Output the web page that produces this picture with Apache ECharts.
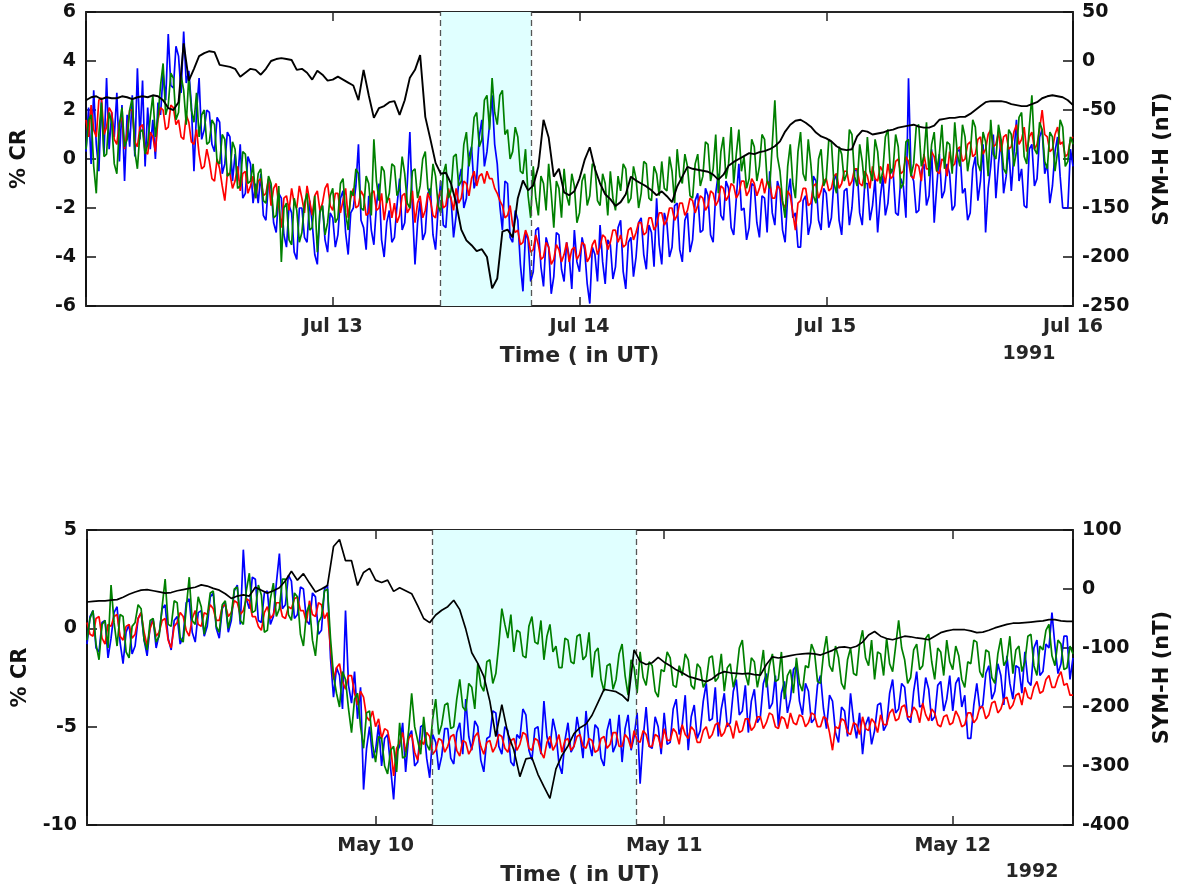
<!DOCTYPE html>
<html><head><meta charset="utf-8">
<script src="https://cdn.jsdelivr.net/npm/echarts@6/dist/echarts.min.js"></script>
<style>html,body{margin:0;padding:0;background:#fff;overflow:hidden}#c{width:1181px;height:890px}</style>
</head><body><div id="c"></div>
<script>
// ---- 1991 event (Jul 12 00 UT .. Jul 16 00 UT) ----
// cosmic-ray series sampled every 15 min, SYM-H every 30 min
const ticks91 = ['', 'Jul 13', 'Jul 14', 'Jul 15', 'Jul 16'];
const shade91 = [34.5, 43.33];
const cr91Blue = [
0.3, 2.1, -0.2, 2.8, 0.6, -0.5, 2.4, 0.2, 3.3, 0.4, 1.9, 0.9, 2.7, -0.1, 2.2, -0.9, 1.8, 0.5, 2.6, 0.1, 3.7, 0.8, 3.2, -0.3,
2.1, 0.4, 1.6, 0.0, 2.3, 1.8, 3.5, 2.4, 5.1, 3.0, 2.9, 4.6, 4.2, 2.7, 5.2, 3.1, 3.6, 2.2, -0.5, 1.9, 3.3, 0.8, 1.2, 2.0,
1.9, 0.6, 0.3, 1.7, 1.5, -0.6, -0.2, 1.1, 0.9, -0.9, 0.2, -0.9, 0.6, -1.6, -1.4, 0.1, -0.2, -1.8, -1.0, -1.8, -0.6, -2.3, -2.5, -0.9,
-1.2, -2.6, -3.0, -1.4, -1.6, -3.1, -3.6, -1.9, -2.2, -3.8, -4.1, -2.0, -2.0, -3.2, -3.4, -1.7, -2.6, -3.9, -4.3, -2.1, -1.9, -3.3, -3.8, -2.2,
-2.4, -3.6, -3.1, -1.6, -1.3, -3.0, -3.9, -2.2, -2.0, -1.1, 0.6, -2.5, -2.8, -3.7, -1.5, -2.9, -3.5, -1.9, -1.0, -3.3, -4.0, -2.6, -2.1, -3.4,
-3.2, -1.9, -0.8, -2.9, -2.6, -1.0, 1.1, -2.0, -4.3, -2.6, -1.7, -3.3, -3.0, -1.4, -1.2, -3.1, -3.7, -2.0, -0.9, -2.7, -2.8, -1.3, -1.6, -3.2,
-2.3, -0.9, -0.4, -2.0, -1.6, 0.1, 0.5, -1.2, -0.8, 0.9, 1.6, -0.3, 0.3, 1.4, 2.6, 0.6, -0.2, -1.9, -2.9, -0.9, -1.0, -3.2, -3.4, -2.1,
-2.5, -4.3, -5.4, -3.0, -3.3, -5.0, -4.6, -2.9, -2.8, -4.4, -5.2, -3.2, -3.6, -5.5, -4.8, -3.0, -3.1, -4.5, -5.0, -3.4, -4.0, -5.3, -2.9, -4.2,
-4.6, -3.2, -3.7, -5.1, -5.9, -3.6, -3.9, -5.0, -2.7, -4.2, -5.1, -3.3, -3.5, -4.9, -4.4, -2.8, -2.5, -4.6, -5.3, -3.4, -3.2, -4.8, -4.0, -2.6,
-2.4, -3.9, -4.5, -2.7, -3.0, -4.4, -1.6, -3.5, -4.3, -2.2, -2.6, -4.0, -3.6, -1.9, -1.8, -3.7, -4.2, -2.5, -2.2, -3.8, -3.3, -1.7, -1.4, -3.0,
-2.9, -1.2, -1.5, -3.1, -3.4, -1.4, -0.6, -2.3, -2.5, -0.9, -1.2, -2.8, -3.1, -1.6, -0.2, -2.1, -2.0, -3.3, -2.8, -1.0, -1.1, -2.6, -3.2, -1.5,
-1.6, -3.0, -0.5, -2.2, -2.7, -0.9, -1.3, -2.9, -3.4, -1.5, -0.8, -2.4, -2.2, -3.6, -3.6, -1.7, -1.5, -3.1, -2.6, -0.7, -0.9, -2.5, -2.9, -1.2,
-1.4, -2.8, -2.4, -0.9, -0.6, -2.5, -3.1, -1.3, -1.2, -2.7, -2.0, -0.5, -0.4, -2.2, -2.7, -1.0, -1.0, -2.5, -1.9, -0.8, -3.0, -1.6, -0.7, -2.3,
-1.8, -0.4, -0.5, -2.2, -2.3, -0.8, -1.1, -2.4, 3.3, -0.6, -0.9, -2.2, -2.1, -0.5, -0.2, -1.9, -1.5, 0.4, -2.6, -1.1, 0.2, -1.6, -1.3, -0.2,
-0.6, -2.1, -1.9, 0.3, 0.4, -1.4, -1.2, -2.5, -2.2, -0.4, 0.1, -1.7, -0.9, 0.6, -3.0, -1.2, -0.3, 1.0, -1.6, -0.2, 0.8, -1.4, -0.7, 0.5,
-1.3, 0.2, 1.6, -0.9, -0.4, -1.9, -2.0, 0.4, 0.6, -1.1, -0.8, 0.9, 1.2, -0.6, -0.2, -1.8, -1.1, 0.3, 0.9, -0.7, -2.0, -2.0, -2.0, 0.4,
-0.3];
const cr91Red = [
1.6, 0.9, 2.2, 1.2, 0.9, 2.4, 2.5, 1.0, 1.3, 2.1, 1.9, 0.8, 0.6, 1.5, 1.7, 0.4, 1.1, 2.0, 2.0, 0.7, 0.5, 1.3, 1.4, 0.3,
0.2, 1.1, 0.9, 0.3, 1.6, 2.1, 2.0, 1.2, 1.3, 2.2, 2.1, 1.4, 1.6, 0.9, 0.8, 1.8, 1.5, 0.7, 0.6, 1.2, 0.2, -0.4, -0.3, 0.4,
-0.1, -0.8, -0.9, 0.0, -0.4, -1.1, -1.7, -0.6, -0.6, -1.2, -0.9, -0.3, -1.3, -0.6, -0.5, -1.4, -1.1, -0.7, -1.6, -0.9, -0.8, -1.5, -1.4, -0.8,
-1.9, -1.2, -1.0, -1.9, -2.8, -1.6, -1.5, -2.1, -1.2, -1.8, -2.0, -1.1, -1.6, -2.2, -1.1, -1.7, -2.3, -1.5, -1.3, -2.1, -1.8, -1.2, -1.0, -1.9,
-2.1, -1.4, -1.4, -2.2, -1.7, -1.2, -2.4, -1.6, -1.2, -2.0, -1.9, -1.3, -1.5, -2.3, -2.2, -1.4, -1.3, -2.1, -2.0, -1.4, -2.5, -1.7, -1.6, -2.4,
-1.8, -2.6, -2.3, -1.5, -1.4, -2.2, -2.0, -1.3, -2.6, -1.8, -1.5, -2.4, -2.1, -1.4, -1.7, -2.3, -2.4, -1.6, -1.3, -2.0, -1.9, -1.2, -1.6, -2.1,
-1.2, -1.8, -1.6, -0.9, -1.0, -1.5, -0.8, -0.5, -1.1, -0.7, -0.6, -1.0, -0.5, -0.8, -0.8, -1.2, -1.4, -1.7, -1.9, -2.4, -2.3, -1.9, -2.7, -3.0,
-2.9, -3.5, -3.4, -2.9, -3.2, -3.8, -3.7, -3.1, -3.5, -4.1, -4.0, -3.4, -3.6, -4.3, -4.1, -3.5, -3.7, -4.2, -3.9, -3.4, -4.2, -3.7, -3.6, -4.1,
-3.9, -3.4, -3.5, -4.2, -4.0, -3.5, -3.3, -3.9, -3.6, -3.1, -3.2, -3.7, -3.4, -2.9, -2.9, -3.4, -3.1, -3.6, -3.5, -2.9, -2.8, -3.3, -3.0, -2.6,
-2.6, -3.1, -3.0, -2.4, -2.4, -2.9, -2.7, -2.2, -2.2, -2.7, -2.5, -2.0, -2.0, -2.5, -2.3, -1.8, -1.8, -2.3, -2.1, -1.6, -1.7, -2.2, -1.9, -1.5,
-1.6, -2.1, -1.9, -1.3, -1.4, -1.9, -1.7, -1.1, -1.2, -1.7, -1.5, -1.0, -1.1, -1.6, -1.4, -0.9, -0.9, -1.5, -1.3, -0.8, -1.0, -1.5, -1.2, -0.8,
-1.4, -0.9, -1.0, -1.6, -1.6, -1.1, -1.2, -1.8, -2.0, -1.3, -1.5, -2.2, -2.9, -1.8, -1.7, -1.2, -1.2, -1.9, -1.8, -1.1, -1.0, -1.6, -1.3, -0.9,
-0.8, -1.3, -1.2, -0.7, -0.6, -1.2, -1.0, -0.5, -0.5, -1.1, -0.9, -0.4, -0.4, -1.0, -1.1, -0.5, -0.7, -1.2, -0.3, -0.8, -0.9, -0.3, -0.5, -1.0,
-0.2, -0.8, -0.7, -0.1, 0.0, -0.6, -0.5, 0.1, -0.1, -0.7, -0.8, -0.2, -0.3, -0.9, 0.2, -0.4, -0.4, 0.3, 0.1, -0.5, -0.6, 0.0, -0.1, -0.7,
0.3, -0.3, -0.2, 0.4, 0.5, -0.1, 0.0, 0.6, 0.7, 0.1, 0.2, 0.8, 0.9, 0.2, 0.4, 1.0, 1.2, 0.5, 0.6, 1.1, 0.3, 0.9, 1.0, 0.4,
0.5, 1.1, 1.4, 0.6, 0.8, 1.3, 0.3, 0.9, 1.1, 0.4, 0.6, 1.2, 2.0, 1.0, 0.9, 0.3, 0.4, 1.0, 1.3, 0.6, 0.7, 0.1, 0.2, 0.8,
0.9];
const cr91Green = [
0.4, 1.6, 1.8, -0.3, -1.4, 1.0, 2.3, 0.1, 0.2, 1.9, 1.5, -0.2, -0.6, 1.4, 2.1, 0.5, 0.8, 2.0, 2.5, 0.3, -0.4, 1.1, 1.2, 0.2,
0.6, 1.7, 2.6, 0.9, 1.7, 3.0, 3.9, 1.8, 2.2, 3.5, 3.3, 1.6, 1.9, 3.4, 2.8, 1.4, 3.4, 2.0, 1.5, 2.7, 0.9, 1.8, 2.0, 0.6,
0.7, 1.6, 1.4, -0.1, -0.2, 1.0, 0.8, -0.7, -0.6, 0.7, 0.4, -1.2, -1.1, 0.3, 0.2, -1.0, -0.9, -0.2, -1.6, -0.6, -0.4, -1.7, -1.8, -0.7,
-1.0, -2.4, -2.3, -1.1, -4.2, -2.0, -1.8, -3.3, -3.5, -1.6, -2.1, -3.4, -3.0, -1.8, -1.4, -2.9, -2.8, -1.5, -3.8, -2.2, -1.9, -3.1, -2.6, -1.5,
-1.2, -2.6, -2.4, -1.0, -0.8, -2.2, -2.9, -1.3, -1.5, -0.4, -0.6, -2.0, -2.1, -0.7, -1.0, -2.3, 0.8, -0.9, -1.7, -0.3, -0.5, -1.8, -1.4, -0.2,
-0.3, -1.5, -1.2, 0.1, -0.6, -1.8, -2.0, -0.5, -0.4, -1.6, -1.1, 0.0, 0.3, -1.2, -1.5, -0.2, -0.7, -1.9, -2.2, -0.6, -0.2, -1.6, -1.3, 0.1,
0.2, -1.1, -0.9, 0.6, 1.1, -0.3, 0.4, 1.7, 1.9, 0.5, 0.8, 2.4, 2.6, 1.2, 3.3, 1.9, 1.4, 2.6, 2.8, 1.0, 1.2, 0.0, 0.3, 1.3,
0.9, -0.5, -0.6, 0.4, -1.5, -2.4, -0.3, -1.6, -2.3, -0.7, -1.0, -2.1, -0.2, -1.4, -2.8, -0.9, -1.2, -2.4, -0.4, -1.5, -1.9, -0.6, -1.1, -2.6,
-2.2, -0.9, -0.6, -1.9, -1.5, -0.2, -0.3, -1.7, -1.9, -0.6, -1.0, -2.3, -0.5, -1.6, -2.1, -0.7, -1.3, -0.2, -0.4, -1.8, -1.6, -0.3, -0.8, -2.0,
-1.4, -0.1, -0.2, -1.6, -1.7, -0.3, -0.6, -1.5, -0.1, -1.2, -1.3, 0.1, -0.5, -1.8, 0.4, -0.7, -1.0, 0.2, -0.3, -1.5, -1.6, -0.2, 0.2, -1.1,
-0.7, 0.7, 0.6, -0.9, -0.4, 1.0, -1.4, 0.3, 0.9, -0.8, -0.2, 1.3, -1.0, 0.2, 1.2, -0.5, 0.1, -1.2, -0.8, 0.8, 0.5, -0.9, -0.3, 1.0,
0.8, -0.9, -1.2, 0.6, 2.4, 0.1, -0.5, -1.7, -2.4, -0.3, 0.6, -1.0, -1.6, 0.3, 1.1, -0.6, -0.9, 0.8, -0.2, -1.5, -1.8, 0.0, 0.4, -1.1,
-0.8, 0.8, 0.7, -1.0, -1.4, 0.5, 0.2, -0.9, -0.6, 1.2, 1.0, -0.7, -1.1, 0.6, -0.1, -1.2, 0.9, -0.5, -0.9, 0.8, 0.3, -1.0, -0.5, 0.9,
1.2, -0.6, -0.4, 1.0, 0.5, -1.2, -1.0, 0.7, 0.8, -0.7, -0.2, 1.3, 1.4, -0.3, 0.1, 1.5, -0.7, 0.6, 1.1, -0.5, 0.2, 1.4, -0.4, 0.7,
0.6, -0.6, 1.5, 0.2, -0.3, 1.4, 0.9, -0.5, 0.2, 1.6, 1.3, -0.2, -0.5, 1.1, 0.7, -0.7, 1.6, 0.2, 0.0, 1.4, 0.8, -0.4, -0.6, 1.2,
1.0, -0.3, 0.3, 1.7, 1.9, 0.1, -0.2, 1.3, 2.6, 0.4, 0.2, 1.5, 1.2, -0.1, -0.4, 1.1, 0.9, -0.5, 0.3, 1.6, 1.3, -0.3, -0.1, 0.9,
0.6];
const symh91 = [
-40, -37, -36, -39, -37, -38, -38, -36, -37, -39, -37, -36,
-37, -35, -36, -40, -48, -50, -42, 18, -20, -8, 5, 8,
10, 9, -4, -5, -6, -8, -16, -12, -8, -9, -14, -8,
0, 2, 3, 2, 1, -9, -8, -12, -19, -10, -14, -20,
-19, -16, -19, -22, -25, -40, -9, -35, -58, -48, -46, -42,
-41, -55, -40, -17, -9, 6, -57, -80, -104, -115, -114, -125,
-145, -172, -183, -188, -194, -192, -200, -232, -222, -174, -172, -180,
-140, -122, -132, -127, -108, -60, -78, -118, -110, -134, -137, -133,
-120, -101, -88, -110, -125, -136, -141, -148, -144, -136, -118, -122,
-125, -128, -132, -137, -133, -138, -144, -128, -118, -108, -110, -111,
-112, -113, -116, -121, -116, -107, -103, -100, -97, -94, -95, -93,
-92, -90, -87, -82, -72, -65, -61, -60, -63, -67, -73, -77,
-79, -82, -87, -90, -91, -90, -77, -71, -72, -75, -74, -73,
-71, -70, -68, -67, -66, -65, -67, -68, -68, -66, -60, -59,
-58, -58, -57, -57, -54, -50, -46, -42, -41, -41, -41, -42,
-44, -45, -46, -46, -44, -42, -38, -36, -35, -36, -37, -40, -45];

// ---- 1992 event (May 9 00 UT .. May 12 10 UT) ----
const ticks92 = ['', 'May 10', 'May 11', 'May 12'];
const shade92 = [28.75, 45.7];
const cr92Blue = [
-0.8, 0.6, 0.9, -1.0, -1.2, 0.3, 0.4, -1.5, -0.5, 0.8, 1.1, -0.7, -1.8, -0.2, 0.2, -1.3, -0.9, 0.5, 0.8, -0.6, -1.4, 0.1, 0.5, -1.0,
-0.3, 1.0, 1.2, -0.5, -1.1, 0.4, 0.6, -0.8, -0.4, 1.3, 1.5, -0.2, -0.7, 0.8, 0.9, -0.4, 0.1, 1.6, 1.8, 0.0, -0.5, 1.0, 1.3, -0.2,
0.4, 1.9, 2.2, 0.2, 4.0, 1.5, 1.0, 2.6, 2.5, 0.4, 0.3, 1.8, 1.9, 0.2, 0.6, 2.3, 3.8, 1.0, 1.2, 2.7, 2.4, 0.5, 0.7, 2.1,
2.0, 0.4, 0.2, 1.8, 1.6, -0.3, -0.1, 2.0, 2.2, -1.5, -3.5, -2.0, -2.4, -4.1, 0.9, -2.9, -3.8, -2.2, -4.6, -3.0, -8.2, -6.1, -5.0, -6.6,
-6.2, -4.9, -7.0, -5.6, -5.4, -7.1, -8.7, -6.3, -6.0, -4.8, -7.3, -5.5, -5.2, -7.0, -6.8, -5.0, -4.9, -6.6, -7.6, -5.4, -5.8, -7.2, -6.5, -5.1,
-5.1, -6.6, -6.9, -5.3, -4.8, -6.4, -3.6, -5.5, -6.2, -4.7, -5.0, -6.7, -7.3, -5.6, -5.5, -4.2, -4.3, -6.0, -6.4, -5.0, -5.2, -6.8, -7.0, -5.4,
-5.6, -4.1, -4.4, -6.2, -6.7, -5.1, -5.0, -6.4, -3.7, -5.5, -6.1, -4.6, -5.3, -6.9, -7.4, -5.7, -4.8, -6.3, -6.0, -4.5, -5.4, -6.6, -4.2, -5.8,
-6.5, -4.9, -5.1, -6.6, -7.0, -5.2, -4.6, -6.3, -5.9, -4.4, -6.8, -5.1, -4.4, -6.2, -5.5, -4.3, -7.9, -5.6, -4.0, -6.0, -6.1, -4.5, -5.0, -6.4,
-4.3, -5.9, -5.8, -4.1, -3.6, -5.4, -4.9, -3.4, -6.2, -4.5, -3.9, -5.6, -5.2, -3.7, -2.8, -4.7, -4.6, -3.0, -5.5, -4.1, -3.3, -5.0, -4.8, -3.2,
-2.6, -4.4, -4.2, -2.9, -5.3, -3.7, -3.1, -4.8, -4.5, -2.8, -2.3, -4.1, -3.8, -2.4, -5.0, -3.3, -2.7, -4.3, -3.6, -2.1, -1.9, -3.7, -4.4, -2.8,
-3.2, -4.8, -4.6, -2.9, -2.4, -4.1, -5.1, -3.4, -3.7, -5.3, -5.8, -4.0, -4.2, -5.5, -3.3, -4.7, -5.6, -4.3, -6.4, -4.9, -4.5, -5.9, -5.2, -3.9,
-3.8, -5.2, -4.9, -3.3, -2.6, -4.3, -4.1, -2.8, -3.0, -4.6, -4.8, -3.2, -2.2, -4.0, -3.9, -2.5, -3.1, -4.7, -4.5, -2.9, -2.7, -4.2, -3.6, -2.4,
-4.2, -2.8, -2.5, -4.0, -3.4, -5.6, -5.6, -3.9, -2.8, -4.1, -3.9, -2.3, -1.9, -3.6, -3.2, -1.8, -2.4, -3.9, -1.4, -2.8, -3.6, -1.9, -2.0, -3.3,
-1.2, -2.7, -2.9, -1.0, -0.6, -2.4, -2.2, -0.8, -1.0, 0.8, -0.9, -2.3, -1.8, -0.4, -0.4, -2.6,
-1.5];
const cr92Red = [
0.3, -0.3, -0.4, 0.5, 0.6, -0.5, -0.8, 0.2, 0.1, 0.6, 0.7, -0.4, -0.6, 0.1, 0.2, -0.5, -0.3, 0.5, 0.8, -0.2, -0.9, 0.0, 0.4, -0.4,
-0.2, 0.4, 0.5, -0.6, -1.0, 0.1, 0.3, 0.8, 0.6, -0.1, -0.4, 0.5, 0.9, 0.2, 0.1, 0.8, 0.7, 1.2, 1.0, 0.4, 0.4, 1.1, 1.2, 0.6,
0.8, 1.4, 1.3, 0.7, 0.9, 1.5, 1.4, 0.6, 0.6, 0.1, -0.1, 0.8, 1.1, 0.5, 0.7, 1.3, 1.3, 0.6, 0.5, 1.1, 1.0, 1.5, 1.6, 0.9,
0.9, 0.3, 1.4, 0.7, 0.6, 1.3, 1.2, 0.5, 0.8, -1.0, -2.6, -2.0, -1.8, -2.7, -3.1, -2.4, -2.4, -3.3, -3.9, -3.2, -3.5, -4.5, -4.7, -4.2,
-5.0, -4.6, -5.6, -5.1, -5.2, -6.0, -7.5, -6.1, -5.8, -5.3, -6.3, -5.6, -5.4, -6.3, -6.7, -5.7, -5.9, -5.3, -5.5, -6.4, -6.2, -5.6, -5.7, -6.3,
-6.0, -5.5, -5.4, -6.2, -6.5, -5.7, -5.8, -6.4, -6.1, -5.5, -5.3, -6.0, -6.4, -5.8, -5.7, -6.3, -6.0, -5.4, -5.5, -6.1, -6.3, -5.7, -5.6, -6.2,
-5.9, -5.3, -5.4, -6.1, -6.2, -5.6, -5.7, -6.3, -6.6, -5.8, -5.5, -6.2, -5.9, -5.4, -6.3, -5.7, -5.6, -6.2, -6.0, -5.5, -5.4, -6.0, -6.1, -5.6,
-5.7, -6.3, -6.2, -5.6, -5.5, -6.1, -5.9, -5.3, -5.3, -6.0, -6.0, -5.4, -5.6, -6.1, -5.2, -5.7, -5.8, -5.2, -5.4, -6.0, -6.0, -5.4, -5.5, -6.1,
-5.1, -5.7, -5.7, -5.1, -5.3, -5.9, -4.9, -5.4, -5.6, -5.0, -5.2, -5.8, -5.8, -5.2, -5.0, -5.6, -5.4, -4.9, -4.8, -5.5, -5.3, -4.8, -5.0, -5.6,
-4.7, -5.3, -5.2, -4.6, -4.6, -5.2, -5.0, -4.5, -4.5, -5.1, -4.8, -4.3, -4.4, -5.0, -5.1, -4.5, -4.6, -5.1, -4.3, -4.8, -4.9, -4.4, -4.5, -5.0,
-4.8, -4.3, -4.4, -5.0, -5.0, -4.5, -4.6, -5.3, -6.2, -5.0, -5.1, -4.6, -4.7, -5.3, -5.4, -4.8, -4.9, -5.4, -4.5, -5.1, -5.2, -4.6, -4.8, -5.3,
-4.4, -4.9, -4.9, -4.3, -4.1, -4.7, -4.6, -4.0, -3.9, -4.5, -4.5, -4.0, -4.2, -4.8, -3.8, -4.4, -4.7, -4.1, -4.3, -4.9, -5.0, -4.5, -4.4, -4.9,
-4.8, -4.2, -4.5, -5.0, -4.9, -4.3, -4.3, -4.8, -4.6, -4.0, -4.0, -4.6, -4.4, -3.8, -3.7, -4.3, -4.1, -3.6, -3.5, -4.1, -3.9, -3.4, -3.3, -3.9,
-3.0, -3.5, -3.6, -3.0, -2.7, -3.3, -3.2, -2.6, -2.4, -3.0, -3.0, -2.5, -2.2, -2.9, -2.8, -3.4,
-3.4];
const cr92Green = [
-0.6, 0.5, 0.9, -0.8, -1.6, 0.2, 0.4, -1.0, 2.2, 0.3, -0.9, 0.7, 0.6, -1.2, -1.5, 0.1, 0.3, 1.2, 1.0, -0.6, -1.1, 0.4, 0.5, -0.7,
-0.4, 1.1, 2.5, 0.2, 0.1, 1.4, 1.3, -0.5, -0.7, 1.0, 2.6, 0.4, 0.2, 1.6, 1.1, -0.3, 0.6, 1.8, 1.9, 0.1, -0.2, 1.2, 1.4, 0.0,
0.7, 2.0, 2.1, 0.4, 0.2, 1.9, 2.8, 0.8, 0.9, 2.2, 1.7, -0.2, -0.1, 1.5, 2.3, 0.6, 1.0, 2.5, 2.5, 0.7, 0.4, 1.8, 1.6, -0.3,
-0.9, 0.8, 1.2, -0.6, -1.4, 0.3, 0.6, 1.9, 2.0, -0.5, -2.4, -3.3, -4.0, -2.2, -2.6, -4.1, -5.3, -3.6, -3.3, -5.0, -6.1, -4.3, -4.2, -5.9,
-6.8, -5.5, -5.6, -7.0, -7.4, -6.2, -6.0, -7.3, -4.8, -6.6, -6.5, -5.2, -3.3, -5.0, -5.7, -6.4, -4.5, -5.9, -6.2, -4.6, -3.6, -5.4, -4.9, -3.9,
-3.8, -5.1, -5.0, -3.6, -2.6, -4.0, -4.2, -2.8, -3.0, -4.1, -1.8, -2.9, -3.2, -1.7, -1.6, -2.8, -2.3, -0.8, 1.0, 0.2, -0.5, 0.7, -1.2, -0.1,
-0.2, -1.4, -1.5, 0.1, 0.6, -0.7, -0.8, 0.4, -1.6, -0.4, 0.2, -1.2, -0.9, -2.0, -2.0, -0.5, -0.6, -1.7, -1.8, -0.4, -0.3, -1.6, -1.4, -0.2,
-2.5, -1.2, -1.0, -2.6, -3.2, -1.9, -1.8, -3.1, -2.6, -1.3, -0.8, -2.4, -3.4, -1.6, -2.0, -3.3, -1.2, -2.5, -2.9, -1.7, -1.9, -3.2, -3.5, -2.1,
-2.2, -1.2, -1.5, -2.9, -3.0, -1.9, -2.4, -1.3, -1.6, -2.9, -3.1, -1.8, -2.0, -3.0, -2.7, -1.5, -1.4, -2.7, -2.5, -1.3, -3.2, -2.0, -1.8, -3.0,
-2.4, -1.0, -0.6, -2.3, -2.9, -1.5, -1.7, -3.0, -2.2, -1.1, -3.0, -1.9, -1.3, -2.7, -2.6, -1.2, -3.6, -2.4, -2.1, -3.3, -1.5, -2.8, -3.2, -1.9,
-2.0, -0.8, -1.2, -2.7, -2.8, -1.3, -0.4, -1.9, -2.2, -0.9, -1.5, -2.8, -3.1, -1.6, -1.0, -2.3, -2.4, -0.8, -0.1, -1.5, -1.9, -0.6, -2.6, -1.2,
-1.3, -2.4, -0.5, -1.8, -2.2, -0.9, 0.4, -1.0, -1.6, -2.8, -2.5, -1.1, -0.8, -2.1, -1.9, -0.5, -0.3, -1.7, -2.6, -1.0, -1.2, -2.4, -0.6, -1.7,
-2.1, -0.9, -1.4, -2.6, -3.0, -1.7, -1.8, -0.6, -0.7, -2.2, -2.5, -1.1, -1.2, -2.5, -2.8, -1.3, -0.5, -1.9, -1.6, -0.4, -2.3, -1.1, -0.9, -2.2,
-1.7, -0.4, -0.3, -1.9, -2.4, -0.9, -1.1, -0.1, 0.2, -1.4, -1.9, -0.6, -0.8, -2.1, -2.0, -0.9,
-1.3];
const symh92 = [
-22, -21, -20, -20, -19, -18, -14, -9, -5, -2, -1, -3,
-5, -7, -6, -3, -1, 1, 3, 7, 5, 1, -2, -8,
-16, -12, -10, -12, 3, -2, -7, -3, 2, 14, 30, 15,
26, 10, -5, 0, 6, 72, 84, 48, 48, 6, 28, 35,
15, 11, 15, -4, 2, -3, -8, -28, -50, -57, -44, -36,
-30, -19, -35, -68, -108, -126, -148, -190, -250, -196, -245, -273,
-318, -288, -286, -314, -335, -355, -305, -282, -266, -245, -235, -229,
-214, -192, -170, -172, -174, -180, -190, -103, -123, -128, -125, -116,
-124, -130, -137, -142, -148, -151, -154, -157, -152, -144, -140, -142,
-143, -144, -143, -145, -146, -128, -115, -117, -115, -113, -111, -110,
-109, -110, -112, -108, -104, -99, -98, -100, -97, -90, -78, -72,
-80, -84, -86, -83, -80, -81, -83, -84, -86, -80, -74, -71,
-69, -69, -69, -71, -74, -73, -70, -66, -63, -60, -58, -58,
-57, -56, -55, -54, -52, -52, -54, -55, -55];

const FONT = 'DejaVu Sans';
const CR_STEP_H = 0.25;   // hours between cosmic-ray samples
const SYMH_STEP_H = 0.5;  // hours between SYM-H samples
const toXY = (arr, step) => arr.map((v, i) => [i * step, v]);

function xAxes(gridIndex, max, ticks) {
  const fmt = v => (v % 24 === 0 ? (ticks[v / 24] || '') : '');
  const common = {
    type: 'value', gridIndex, min: 0, max, interval: 24,
    splitLine: { show: false },
    axisTick: { show: true, inside: true, length: 9, lineStyle: { color: '#262626', width: 1.5 } },
    axisLine: { show: true, onZero: false, lineStyle: { color: '#262626', width: 2 } }
  };
  return [
    Object.assign({}, common, {
      position: 'bottom',
      name: 'Time ( in UT)', nameLocation: 'middle', nameGap: 39,
      nameTextStyle: { fontFamily: FONT, fontWeight: 'bold', fontSize: 22, color: '#262626' },
      axisLabel: { formatter: fmt, fontFamily: FONT, fontWeight: 'bold', fontSize: 19, color: '#262626', margin: 12, showMaxLabel: true }
    }),
    Object.assign({}, common, { position: 'top', axisLabel: { show: false } })
  ];
}
function yAxes(gridIndex, lmin, lmax, lint, rmin, rmax, rint) {
  const lab = { fontFamily: FONT, fontWeight: 'bold', fontSize: 19, color: '#111' };
  const nm = { fontFamily: FONT, fontWeight: 'bold', fontSize: 21, color: '#111' };
  const tick = { show: true, inside: true, length: 10, lineStyle: { color: '#111', width: 1.5 } };
  const line = { show: true, onZero: false, lineStyle: { color: '#111', width: 2 } };
  return [
    { type: 'value', gridIndex, position: 'left', min: lmin, max: lmax, interval: lint,
      name: '% CR', nameLocation: 'middle', nameGap: 56, nameRotate: 90, nameTextStyle: nm,
      axisLabel: Object.assign({ margin: 10 }, lab), axisTick: tick, axisLine: line, splitLine: { show: false } },
    { type: 'value', gridIndex, position: 'right', min: rmin, max: rmax, interval: rint,
      name: 'SYM-H (nT)', nameLocation: 'middle', nameGap: 79, nameRotate: 90, nameTextStyle: nm,
      axisLabel: Object.assign({ margin: 9 }, lab), axisTick: tick, axisLine: line, splitLine: { show: false } }
  ];
}
function lineSeries(data, step, color, xi, yi, width, z) {
  return { type: 'line', data: toXY(data, step), xAxisIndex: xi, yAxisIndex: yi, symbol: 'none', z,
    lineStyle: { color, width }, itemStyle: { color }, silent: true };
}
function shadeSeries(range, xi, yi) {
  return { type: 'line', data: [], xAxisIndex: xi, yAxisIndex: yi, symbol: 'none', z: 1, silent: true,
    markArea: { silent: true, itemStyle: { color: '#E0FFFF' }, data: [[{ xAxis: range[0] }, { xAxis: range[1] }]] },
    markLine: { silent: true, symbol: 'none', label: { show: false },
      lineStyle: { color: '#555', type: [6, 4], width: 1.3 },
      data: [{ xAxis: range[0] }, { xAxis: range[1] }] } };
}

const chart = echarts.init(document.getElementById('c'), null, { renderer: 'canvas' });
chart.setOption({
  animation: false,
  backgroundColor: '#fff',
  grid: [
    { left: 86, top: 12, right: 103, height: 294 },
    { left: 87, top: 530, right: 101, height: 295 }
  ],
  xAxis: [].concat(xAxes(0, 96, ticks91), xAxes(1, 82, ticks92)),
  yAxis: [].concat(yAxes(0, -6, 6, 2, -250, 50, 50), yAxes(1, -10, 5, 5, -400, 100, 100)),
  series: [
    shadeSeries(shade91, 0, 0),
    lineSeries(cr91Blue, CR_STEP_H, '#0000FF', 0, 0, 1.7, 2),
    lineSeries(cr91Red, CR_STEP_H, '#FF0000', 0, 0, 1.7, 3),
    lineSeries(cr91Green, CR_STEP_H, '#008000', 0, 0, 1.7, 4),
    lineSeries(symh91, SYMH_STEP_H, '#000000', 0, 1, 1.9, 5),
    shadeSeries(shade92, 2, 2),
    lineSeries(cr92Blue, CR_STEP_H, '#0000FF', 2, 2, 1.7, 2),
    lineSeries(cr92Red, CR_STEP_H, '#FF0000', 2, 2, 1.7, 3),
    lineSeries(cr92Green, CR_STEP_H, '#008000', 2, 2, 1.7, 4),
    lineSeries(symh92, SYMH_STEP_H, '#000000', 2, 3, 1.7, 5)
  ],
  graphic: [
    { type: 'text', x: 1029, y: 354, style: { text: '1991', font: 'bold 19px "DejaVu Sans"', fill: '#262626', textAlign: 'center', textVerticalAlign: 'middle' } },
    { type: 'text', x: 1032, y: 872, style: { text: '1992', font: 'bold 19px "DejaVu Sans"', fill: '#262626', textAlign: 'center', textVerticalAlign: 'middle' } }
  ]
});
</script>
</body></html>
